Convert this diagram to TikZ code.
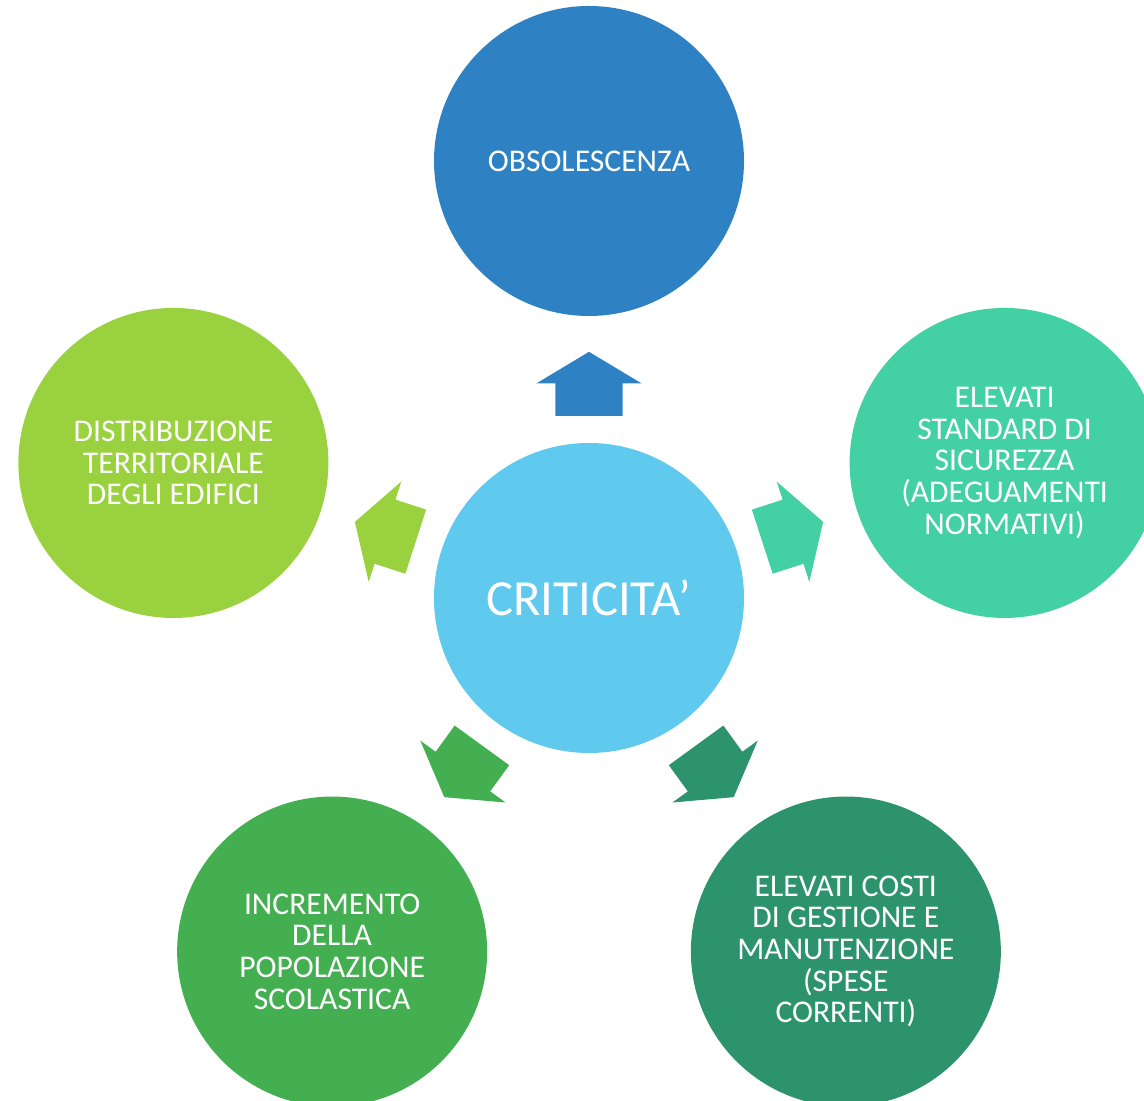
\documentclass[tikz,border=0pt]{standalone}
\usepackage{fontspec}
\setmainfont{Carlito}
\usetikzlibrary{shapes.arrows}
\definecolor{azzurro}{HTML}{5FCAEE}
\definecolor{blu}{HTML}{2E82C3}
\definecolor{verdeacqua}{HTML}{43D0A2}
\definecolor{verdescuro}{HTML}{2D936C}
\definecolor{verde}{HTML}{43AF50}
\definecolor{verdechiaro}{HTML}{99D13F}
\begin{document}
\begin{tikzpicture}[font=\fontsize{9}{9}\selectfont, line join=round,
	bolla/.style={circle, minimum size=3.1cm, inner sep=0pt, text=white, align=center},
	freccia/.style={single arrow, minimum height=0.64cm, inner xsep=0pt, inner ysep=0.33cm,
		single arrow head extend=0.19cm, single arrow tip angle=118,
		sloped, allow upside down}]
		\def\d{4.37} % distanza dei cerchi esterni
		\useasboundingbox (-5.89,5.98) rectangle (5.55,-5.03);
		\node[bolla, fill=azzurro, font=\fontsize{14.4}{14.4}\selectfont] (crit) at (0,0) {CRITICITA’};
		\node[bolla, fill=blu] (obs) at (90:\d) {OBSOLESCENZA};
		\node[bolla, fill=verdeacqua] (sic) at (18:\d) {ELEVATI\\STANDARD DI\\SICUREZZA\\(ADEGUAMENTI\\NORMATIVI)};
		\node[bolla, fill=verdescuro] (cost) at (-54:\d) {ELEVATI COSTI\\DI GESTIONE E\\MANUTENZIONE\\(SPESE\\CORRENTI)};
		\node[bolla, fill=verde] (pop) at (-126:\d) {INCREMENTO\\DELLA\\POPOLAZIONE\\SCOLASTICA};
		\node[bolla, fill=verdechiaro] (dist) at (162:\d) {DISTRIBUZIONE\\TERRITORIALE\\DEGLI EDIFICI};
		% frecce dal centro
		\foreach \n/\c in {obs/blu, sic/verdeacqua, cost/verdescuro, pop/verde, dist/verdechiaro}
			\path (crit) -- (\n) node[freccia, fill=\c, pos=0.385] {};
\end{tikzpicture}
\end{document}
